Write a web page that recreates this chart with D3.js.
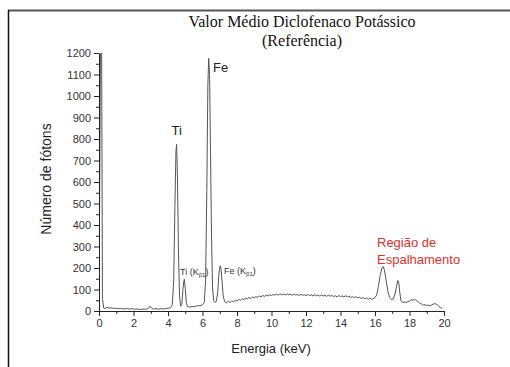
<!DOCTYPE html>
<html>
<head>
<meta charset="utf-8">
<script src="https://cdn.jsdelivr.net/npm/d3@7"></script>
<style>
  body { margin: 0; background: #fff; }
  svg { display: block; }
</style>
</head>
<body>
<svg width="510" height="367"></svg>
<script>
// energy (keV) and photon counts
var energy = [0.00, 0.09, 0.15, 0.20, 0.27, 0.35, 0.45, 0.55, 0.7, 0.85, 1.0, 1.15, 1.3, 1.45, 1.6, 1.75, 1.9, 2.05, 2.2, 2.35, 2.5, 2.65, 2.8, 2.9, 2.97, 3.05, 3.15, 3.3, 3.45, 3.6, 3.75, 3.9, 4.05, 4.15, 4.25, 4.33, 4.40, 4.46, 4.50, 4.55, 4.61, 4.67, 4.73, 4.80, 4.86, 4.91, 4.95, 5.00, 5.06, 5.13, 5.25, 5.4, 5.55, 5.7, 5.85, 6.0, 6.1, 6.18, 6.25, 6.31, 6.36, 6.41, 6.46, 6.52, 6.58, 6.65, 6.72, 6.80, 6.88, 6.95, 7.02, 7.07, 7.13, 7.20, 7.28, 7.38, 7.5, 7.6, 7.7, 7.8, 7.9, 8.0, 8.1, 8.2, 8.3, 8.4, 8.5, 8.6, 8.7, 8.8, 8.9, 9.0, 9.1, 9.2, 9.3, 9.4, 9.5, 9.6, 9.7, 9.8, 9.9, 10.0, 10.1, 10.2, 10.3, 10.4, 10.5, 10.6, 10.7, 10.8, 10.9, 11.0, 11.1, 11.2, 11.3, 11.4, 11.5, 11.6, 11.7, 11.8, 11.9, 12.0, 12.1, 12.2, 12.3, 12.4, 12.5, 12.6, 12.7, 12.8, 12.9, 13.0, 13.1, 13.2, 13.3, 13.4, 13.5, 13.6, 13.7, 13.8, 13.9, 14.0, 14.1, 14.2, 14.3, 14.4, 14.5, 14.6, 14.7, 14.8, 14.9, 15.0, 15.1, 15.2, 15.3, 15.4, 15.5, 15.6, 15.7, 15.8, 15.9, 16.0, 16.1, 16.2, 16.3, 16.4, 16.48, 16.55, 16.65, 16.75, 16.85, 16.95, 17.05, 17.15, 17.25, 17.32, 17.38, 17.44, 17.50, 17.58, 17.68, 17.8, 17.9, 18.0, 18.1, 18.2, 18.3, 18.4, 18.5, 18.6, 18.7, 18.8, 18.9, 19.0, 19.1, 19.2, 19.3, 19.4, 19.5, 19.6, 19.7, 19.8, 19.9, 20.0];
var counts = [8, 1300, 1300, 60, 14, 11, 17, 14, 15, 12, 13, 10, 12, 9, 12, 9, 11, 8, 10, 7, 9, 8, 10, 15, 22, 13, 9, 11, 8, 11, 9, 12, 13, 16, 30, 140, 480, 740, 775, 610, 260, 70, 22, 30, 95, 135, 148, 105, 40, 20, 18, 21, 20, 25, 24, 29, 40, 140, 560, 1050, 1175, 1100, 780, 360, 110, 48, 40, 44, 85, 170, 210, 200, 140, 70, 44, 38, 45, 40, 47, 43, 50, 46, 54, 50, 57, 53, 60, 56, 63, 58, 65, 61, 68, 63, 70, 66, 72, 68, 74, 70, 76, 72, 77, 73, 79, 74, 80, 75, 78, 74, 80, 76, 78, 73, 79, 74, 77, 72, 78, 73, 76, 71, 77, 72, 75, 70, 76, 71, 74, 69, 75, 70, 73, 68, 74, 69, 72, 67, 71, 66, 72, 67, 70, 65, 71, 66, 69, 63, 68, 62, 66, 61, 64, 58, 63, 57, 61, 55, 60, 54, 58, 62, 75, 115, 165, 200, 206, 190, 140, 90, 62, 52, 55, 75, 115, 142, 130, 85, 50, 40, 42, 39, 44, 46, 52, 50, 55, 47, 44, 36, 32, 27, 30, 25, 28, 24, 29, 33, 34, 29, 22, 16, 12];

var xTicks = [0, 2, 4, 6, 8, 10, 12, 14, 16, 18, 20];
var yTicks = [0, 100, 200, 300, 400, 500, 600, 700, 800, 900, 1000, 1100, 1200];
var xMinor = d3.range(1, 20, 2);
var yMinor = d3.range(50, 1200, 100);

var svg = d3.select('svg');
var plotLeft = 99, plotRight = 444, plotTop = 53, plotBottom = 311;
var sans = 'Arial, "Liberation Sans", sans-serif';

var x = d3.scaleLinear().domain([0, 20]).range([plotLeft, plotRight]);
var y = d3.scaleLinear().domain([0, 1200]).range([plotBottom, plotTop]);

// frame (only top and left edges are visible)
svg.append('line')
    .attr('x1', 8).attr('x2', 510).attr('y1', 10.5).attr('y2', 10.5)
    .attr('stroke', '#555').attr('stroke-width', 2);
svg.append('line')
    .attr('x1', 8.5).attr('x2', 8.5).attr('y1', 10).attr('y2', 367)
    .attr('stroke', '#111').attr('stroke-width', 1.5);

svg.append('clipPath').attr('id', 'plot')
  .append('rect')
    .attr('x', plotLeft).attr('y', plotTop)
    .attr('width', plotRight - plotLeft).attr('height', plotBottom - plotTop);

var points = energy.map(function (e, i) { return [e, counts[i]]; });
var line = d3.line()
    .x(function (d) { return x(d[0]); })
    .y(function (d) { return y(d[1]); });

svg.append('path')
    .datum(points)
    .attr('clip-path', 'url(#plot)')
    .attr('d', line)
    .attr('fill', 'none')
    .attr('stroke', '#555')
    .attr('stroke-width', 1);

// axes
svg.append('g')
    .attr('transform', 'translate(0,' + plotBottom + ')')
    .call(d3.axisBottom(x).tickValues(xTicks).tickSize(5).tickSizeOuter(0).tickPadding(3));
svg.append('g')
    .attr('transform', 'translate(0,' + plotBottom + ')')
    .call(d3.axisBottom(x).tickValues(xMinor).tickSize(3).tickFormat(''))
    .select('.domain').remove();

svg.append('g')
    .attr('transform', 'translate(' + plotLeft + ',0)')
    .call(d3.axisLeft(y).tickValues(yTicks).tickFormat(d3.format('d'))
        .tickSize(5).tickSizeOuter(0).tickPadding(3));
svg.append('g')
    .attr('transform', 'translate(' + plotLeft + ',0)')
    .call(d3.axisLeft(y).tickValues(yMinor).tickSize(3).tickFormat(''))
    .select('.domain').remove();

svg.selectAll('.tick text')
    .attr('font-family', sans)
    .attr('font-size', 11)
    .attr('fill', '#333');
svg.selectAll('.domain, .tick line').attr('stroke', '#222');

// titles
var title = svg.append('text')
    .attr('x', 302).attr('y', 27)
    .attr('text-anchor', 'middle')
    .attr('font-family', '"Times New Roman", "Liberation Serif", serif')
    .attr('font-size', 16)
    .attr('fill', '#111');
title.append('tspan').attr('x', 302).text('Valor Médio Diclofenaco Potássico');
title.append('tspan').attr('x', 302).attr('dy', 19).text('(Referência)');

svg.append('text')
    .attr('transform', 'translate(51,179) rotate(-90)')
    .attr('text-anchor', 'middle')
    .attr('font-family', sans)
    .attr('font-size', 14)
    .attr('fill', '#222')
    .text('Número de fótons');

svg.append('text')
    .attr('x', 271).attr('y', 353)
    .attr('text-anchor', 'middle')
    .attr('font-family', sans)
    .attr('font-size', 13)
    .attr('fill', '#222')
    .text('Energia (keV)');

// peak labels
svg.append('text').attr('x', x(4.5)).attr('y', 135).attr('text-anchor', 'middle')
    .attr('font-family', sans).attr('font-size', 13).attr('fill', '#222').text('Ti');
svg.append('text').attr('x', 213).attr('y', 72)
    .attr('font-family', sans).attr('font-size', 13).attr('fill', '#222').text('Fe');

function kLabel(px, py, el) {
    var t = svg.append('text').attr('x', px).attr('y', py)
        .attr('font-family', sans).attr('font-size', 9).attr('fill', '#333');
    t.append('tspan').text(el + ' (K');
    t.append('tspan').attr('font-size', 6).attr('dy', 2).text('β1');
    t.append('tspan').attr('dy', -2).text(')');
}
kLabel(180, 275, 'Ti');
kLabel(224, 274, 'Fe');

var red = svg.append('text')
    .attr('font-family', sans).attr('font-size', 13).attr('fill', '#e0312b');
red.append('tspan').attr('x', 377).attr('y', 247).text('Região de');
red.append('tspan').attr('x', 377).attr('y', 264).text('Espalhamento');
</script>
</body>
</html>
